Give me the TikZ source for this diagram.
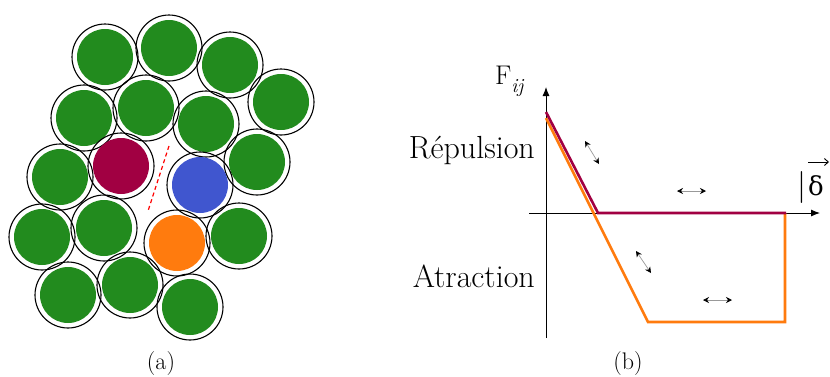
\documentclass[tikz,border=0pt]{standalone}
\usepackage{fontspec}
\newfontfamily\grkfont{DejaVu Serif}
\usetikzlibrary{arrows.meta}
\definecolor{ballgreen}{RGB}{34,139,30}
\definecolor{ballmaroon}{RGB}{161,0,66}
\definecolor{ballblue}{RGB}{64,86,207}
\definecolor{ballorange}{RGB}{255,123,14}
\tikzset{
  ring/.style={draw=black, line width=1.1pt},
  axis/.style={black, line width=0.9pt, -{Latex[length=9pt,width=7pt]}},
  curve/.style={line width=2.6pt, line join=miter},
  dbl/.style={draw=gray!80, line width=0.7pt,
     {Stealth[black,length=6pt,width=6pt,inset=2pt]}-{Stealth[black,length=6pt,width=6pt,inset=2pt]}},
  big/.style={font=\fontsize{32}{36}\selectfont},
  sublabel/.style={font=\fontsize{24}{26}\selectfont}
}
\begin{document}
\begin{tikzpicture}[x=1pt,y=-1pt]
\useasboundingbox (0,0) rectangle (830,376);
% (a) packing of grains
\foreach \x/\y/\c in {105/57/ballgreen,169/48/ballgreen,230/65/ballgreen,281/102/ballgreen,
  84/118/ballgreen,146/108/ballgreen,206/124/ballgreen,257/162/ballgreen,
  60/177/ballgreen,121/166/ballmaroon,200/185/ballblue,
  42/237/ballgreen,104/228/ballgreen,177/243/ballorange,239/236/ballgreen,
  68/295/ballgreen,130/285/ballgreen,190/307/ballgreen}{
  \fill[\c] (\x,\y) circle (28);
  \draw[ring] (\x,\y) circle (33);
}
\coordinate (d1) at (169,146);
\coordinate (d2) at (148,211);
\draw[red, line width=1.2pt, dash pattern=on 4pt off 3pt] (d1) -- (d2);
\node[sublabel, anchor=base, inner sep=0pt] (la) at (161,369) {(a)};
% (b) force law
\coordinate (O) at (546,213);
\coordinate (ybot) at (546,338);
\coordinate (ytop) at (546,87);
\coordinate (xl) at (529,213);
\coordinate (xr) at (820,213);
\draw[axis] (ybot) -- (ytop);
\draw[axis] (xl) -- (xr);
\coordinate (o1) at (546,118);
\coordinate (o2) at (648,322);
\coordinate (o3) at (785,322);
\coordinate (o4) at (785,213);
\coordinate (m1) at (546,112);
\coordinate (m2) at (598,213);
\coordinate (m3) at (786,213);
\draw[curve, ballorange] (o1) -- (o2) -- (o3) -- (o4);
\draw[curve, ballmaroon] (m1) -- (m2) -- (m3);
\draw[dbl] (585,141) -- (599,164);
\draw[dbl] (677,191) -- (706,191);
\draw[dbl] (636,251) -- (651,273);
\draw[dbl] (703,300) -- (732,300);
\node[big, anchor=base east, inner sep=0pt] (rep) at (535,158) {Répulsion};
\node[big, anchor=base east, inner sep=0pt] (atr) at (535,287) {Atraction};
\node[font=\fontsize{27}{30}\selectfont, anchor=base west, inner sep=0pt] (F) at (495,84)
  {F\raisebox{-0.3em}{\fontsize{20}{22}\selectfont\itshape ij}};
\node[font=\fontsize{32}{36}\selectfont, anchor=base west, inner sep=0pt] (del) at (797,195)
  {|\hspace{2pt}{\grkfont\fontsize{26}{28}\selectfont δ}};
\coordinate (va) at (808,162);
\coordinate (vb) at (829,162);
\draw[line width=0.9pt, -{Straight Barb[length=4pt,width=7pt]}] (va) -- (vb);
\node[sublabel, anchor=base, inner sep=0pt] (lb) at (628,369) {(b)};
\end{tikzpicture}
\end{document}
